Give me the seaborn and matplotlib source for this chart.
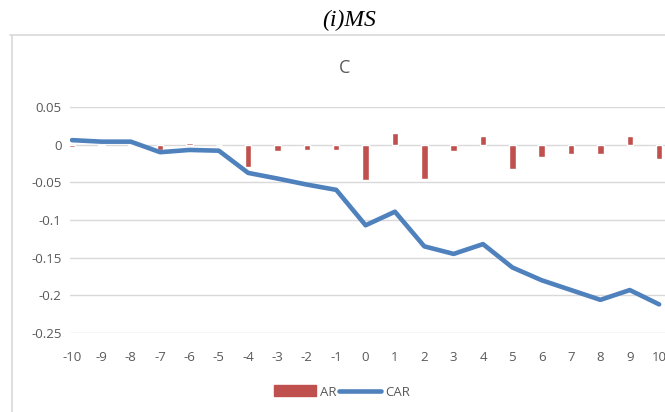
import matplotlib
matplotlib.use("Agg")
import matplotlib.pyplot as plt
import seaborn as sns
import pandas as pd
from matplotlib.patches import Patch
from matplotlib.lines import Line2D

days = list(range(-10, 11))
ar = [-0.003, -0.002, -0.002, -0.007, 0.002, 0.0, -0.030, -0.008, -0.007, -0.007,
      -0.047, 0.016, -0.046, -0.009, 0.012, -0.032, -0.017, -0.013, -0.012, 0.012, -0.019]
car = [0.006, 0.004, 0.004, -0.010, -0.007, -0.008, -0.0375, -0.045, -0.053, -0.060,
       -0.107, -0.089, -0.135, -0.145, -0.132, -0.163, -0.180, -0.193, -0.206, -0.193, -0.212]
yticks = [0.05, 0, -0.05, -0.1, -0.15, -0.2, -0.25]
ytick_labels = ["0.05", "0", "-0.05", "-0.1", "-0.15", "-0.2", "-0.25"]

df = pd.DataFrame({"day": days, "AR": ar, "CAR": car})

sns.set_style("white")
plt.rcParams['font.family'] = ['Open Sans', 'DejaVu Sans']

fig = plt.figure(figsize=(6.65, 4.12), dpi=100)
W, H = 665, 412
ax = fig.add_axes([70 / W, 1 - 333 / H, 1 - 70 / W, (333 - 107) / H])

red = "#c0504d"
blue = "#4f81bd"
grid = "#d9d9d9"
txt = "#595959"

sns.barplot(data=df, x="day", y="AR", native_scale=True, width=0.22, color=red,
            saturation=1, ax=ax, zorder=3)
sns.lineplot(data=df, x="day", y="CAR", color=blue, linewidth=3.3, ax=ax, zorder=4)

ax.set_xlim(-10.07, 10.2)
ax.set_ylim(-0.25, 0.05)
ax.set_yticks(yticks)
ax.set_yticklabels(ytick_labels)
ax.set_xticks(days)
ax.set_xticklabels([str(d) for d in days])
for y in yticks:
    ax.axhline(y, color=grid, lw=1, zorder=1)
for s in ax.spines.values():
    s.set_visible(False)
ax.tick_params(axis="both", length=0, labelsize=9.5, colors=txt, pad=6)
ax.tick_params(axis="x", pad=13)
ax.set_xlabel("")
ax.set_ylabel("")

# chart frame
fig.add_artist(Line2D([10 / W, 1], [1 - 35 / H, 1 - 35 / H], color=grid, lw=1.2))
fig.add_artist(Line2D([12 / W, 12 / W], [0, 1 - 35 / H], color=grid, lw=1.2))

fig.text(349 / W, 1 - 20 / H, "(i)MS", ha="center", va="center", fontsize=17,
         style="italic", family="Liberation Serif", color="black")
fig.text(345 / W, 1 - 68 / H, "C", ha="center", va="center", fontsize=13, color=txt)

handles = [Patch(facecolor=red, edgecolor=red), Line2D([0], [0], color=blue, lw=3.3)]
fig.legend(handles, ["AR", "CAR"], loc="center", bbox_to_anchor=(342 / W, 1 - 392 / H),
           ncol=2, frameon=False, fontsize=9.5, labelcolor=txt, handlelength=3.2,
           handletextpad=0.3, columnspacing=0.2, handleheight=0.9)

fig.savefig("out.png", dpi=100)
